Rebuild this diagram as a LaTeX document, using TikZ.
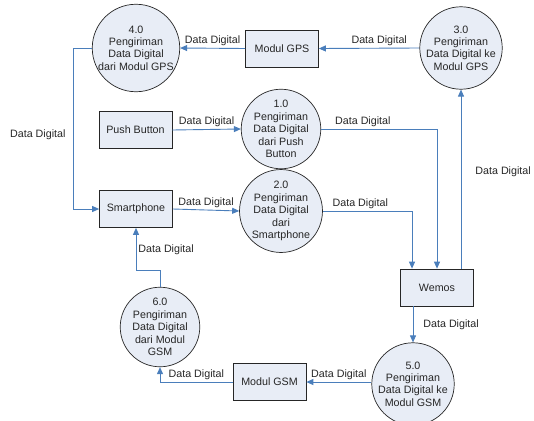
\documentclass[tikz,border=0pt]{standalone}
\usepackage{fontspec}
\setsansfont{Liberation Sans}
\usetikzlibrary{arrows.meta,calc,positioning}
\definecolor{flowblue}{HTML}{4A7EBB}
\definecolor{shapefill}{HTML}{E8EDF6}

\begin{document}
\begin{tikzpicture}[x=1pt,y=-1pt,
  font=\sffamily\fontsize{10.7}{12.4}\selectfont,
  entity/.style={draw=black!85,line width=.7pt,fill=shapefill,
                 minimum width=73pt,minimum height=37pt,inner sep=1pt,text=black!85},
  proc/.style={circle,draw=black!85,line width=.7pt,fill=shapefill,
               minimum size=79pt,inner sep=0pt,align=center,text=black!85},
  flow/.style={-{Triangle[length=7pt,width=6pt]},draw=flowblue,line width=.9pt},
  lbl/.style={text=black!85,inner sep=2pt}]
\useasboundingbox (0,0) rectangle (534,420);

% external entities
\node[entity] (gps)   at (282,48.5)  {Modul GPS};
\node[entity] (push)  at (135.5,130) {Push Button};
\node[entity] (smart) at (136,209)   {Smartphone};
\node[entity] (wemos) at (437,287.5) {Wemos};
\node[entity] (gsm)   at (269.5,382) {Modul GSM};

% processes
\node[proc] (p4) at (136,48)  {4.0\\Pengiriman\\Data Digital\\dari Modul GPS};
\node[proc] (p3) at (461,48)  {3.0\\Pengiriman\\Data Digital ke\\Modul GPS};
\node[proc] (p1) at (281,129) {1.0\\Pengiriman\\Data Digital\\dari Push\\Button};
\node[proc] (p2) at (281,211) {2.0\\Pengiriman\\Data Digital\\dari\\Smartphone};
\node[proc] (p5) at (413,384) {5.0\\Pengiriman\\Data Digital ke\\Modul GSM};
\node[proc] (p6) at (160,327) {6.0\\Pengiriman\\Data Digital\\dari Modul\\GSM};

% data flows
\draw[flow] (gps.west) -- node[lbl,above] {Data Digital} (p4.east);
\draw[flow] (p3.west) -- node[lbl,above,pos=.4] {Data Digital} (gps.east);
\draw[flow] (p4.west) -- ++(-18,0) |- node[lbl,left,pos=.27,xshift=-6pt] {Data Digital} (smart.west);
\draw[flow] (push.east) -- node[lbl,above] {Data Digital} (p1.west);
\draw[flow] (smart.east) -- node[lbl,above] {Data Digital} (p2.west);
\draw[flow] (p1.east) -| node[lbl,above,pos=.18] {Data Digital} (wemos.north);
\coordinate (w2) at ($(wemos.north)+(-25,0)$);
\draw[flow] (p2.east) -| node[lbl,above,pos=.21] {Data Digital} (w2);
\draw[flow] (wemos.north -| p3.south) -- node[lbl,right,pos=.54,xshift=12pt] {Data Digital} (p3.south);
\draw[flow] (wemos.south -| p5.north) -- node[lbl,right,xshift=8pt] {Data Digital} (p5.north);
\draw[flow] (p5.west |- gsm.east) -- node[lbl,above] {Data Digital} (gsm.east);
\draw[flow] (gsm.west) -| node[lbl,above,pos=.25] {Data Digital} (p6.south);
\coordinate (bend) at ($(smart.south)+(0,43)$);
\draw[flow] (p6.north) |- (bend) -- node[lbl,right,pos=.5] {Data Digital} (smart.south);
\end{tikzpicture}
\end{document}
